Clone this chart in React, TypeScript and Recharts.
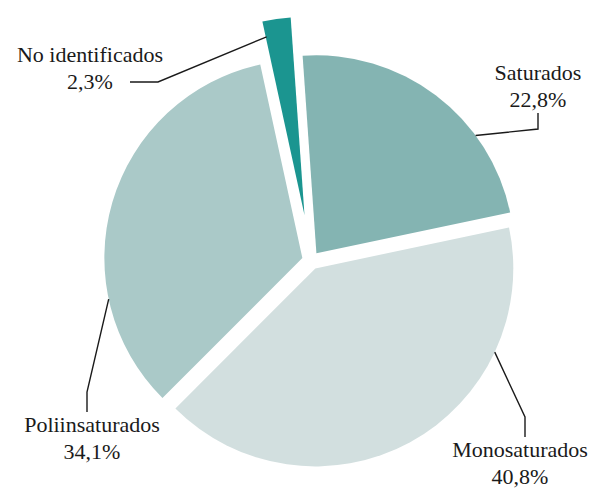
import React from 'react';
import { PieChart, Pie, Sector } from 'recharts';

const categories = ['Saturados', 'Monosaturados', 'Poliinsaturados', 'No identificados'];
const shares = [22.8, 40.8, 34.1, 2.3];
const percentLabels = ['22,8%', '40,8%', '34,1%', '2,3%'];

const COLORS = ['#84b4b2', '#d2dfdf', '#aac9c8', '#1b9590'];
const EXPLODE = [9, 9, 9, 46];

// leader-line / text layout per slice
const LAYOUT = [
  { angle: 36.5, ratio: 1.0, elbow: [538, 129], end: [538, 113], tx: 538, ty: 80 },
  { angle: -25, ratio: 1.0, elbow: [525, 417], end: [525, 437], tx: 520, ty: 457 },
  { angle: -168, ratio: 1.0, elbow: [87, 392], end: [87, 412], tx: 92, ty: 432 },
  { angle: 102, ratio: 0.92, elbow: [158, 82], end: [130, 82], tx: 90, ty: 62 },
];

const data = categories.map((name, i) => ({ name, value: shares[i], pct: percentLabels[i] }));

const RAD = Math.PI / 180;
const textStyle: React.CSSProperties = {
  fontFamily: "'Liberation Serif', 'DejaVu Serif', serif",
  fontSize: 22,
};

const renderSlice = (props: any) => {
  const { cx, cy, outerRadius, startAngle, endAngle, midAngle, index } = props;
  const d = EXPLODE[index];
  const ox = cx + d * Math.cos(midAngle * RAD);
  const oy = cy - d * Math.sin(midAngle * RAD);
  const L = LAYOUT[index];
  const ar = outerRadius * L.ratio;
  const ax = ox + ar * Math.cos(L.angle * RAD);
  const ay = oy - ar * Math.sin(L.angle * RAD);
  return (
    <g key={`slice-${index}`}>
      <Sector
        cx={ox}
        cy={oy}
        innerRadius={0}
        outerRadius={outerRadius}
        startAngle={startAngle}
        endAngle={endAngle}
        fill={COLORS[index]}
        stroke="none"
      />
      <polyline
        points={`${ax},${ay} ${L.elbow[0]},${L.elbow[1]} ${L.end[0]},${L.end[1]}`}
        fill="none"
        stroke="#1a1a1a"
        strokeWidth={1.4}
      />
      <text x={L.tx} y={L.ty} textAnchor="middle" style={textStyle} fill="#1a1a1a">
        {data[index].name}
      </text>
      <text x={L.tx} y={L.ty + 27} textAnchor="middle" style={textStyle} fill="#1a1a1a">
        {data[index].pct}
      </text>
    </g>
  );
};

export default function App() {
  return (
    <div style={{ position: 'absolute', left: 0, top: 0, width: 608, height: 488, background: '#fff' }}>
      <PieChart width={608} height={488} margin={{ top: 0, right: 0, bottom: 0, left: 0 }}>
        <Pie
          data={data}
          dataKey="value"
          nameKey="name"
          cx={311}
          cy={260.5}
          innerRadius={0}
          outerRadius={198}
          startAngle={94}
          endAngle={-266}
          fill="none"
          stroke="none"
          label={renderSlice}
          labelLine={false}
          isAnimationActive={false}
        />
      </PieChart>
    </div>
  );
}
